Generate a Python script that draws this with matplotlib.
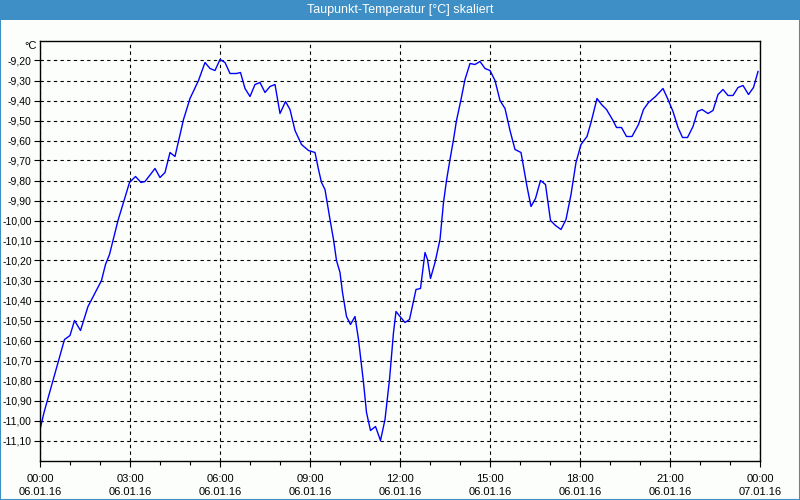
import numpy as np
import matplotlib
matplotlib.use('Agg')
import matplotlib.pyplot as plt
from matplotlib.patches import Rectangle
from matplotlib.ticker import MultipleLocator, FixedLocator

plt.rcParams['font.family'] = ['Liberation Sans', 'DejaVu Sans']

# minutes since 06.01.16 00:00
minutes = [0, 8, 49, 60, 69, 81, 96, 123, 131, 139, 156, 179, 191, 202, 210,
           230, 240, 250, 260, 270, 287, 300, 317, 330, 340, 350, 360, 370,
           380, 393, 401, 410, 420, 430, 440, 450, 460, 470, 480, 491, 500,
           510, 523, 537, 550, 557, 563, 570, 580, 587, 593, 600, 605, 613,
           621, 630, 637, 647, 653, 661, 671, 681, 690, 699, 707, 712, 720,
           730, 739, 748, 752, 761, 770, 775, 781, 790, 800, 807, 813, 820,
           827, 833, 842, 850, 860, 870, 880, 890, 900, 910, 920, 930, 940,
           950, 962, 974, 982, 991, 1001, 1011, 1021, 1031, 1042, 1052, 1062,
           1072, 1082, 1094, 1102, 1114, 1123, 1133, 1146, 1153, 1163, 1173,
           1184, 1197, 1207, 1217, 1231, 1246, 1256, 1266, 1276, 1285, 1295,
           1306, 1315, 1324, 1336, 1346, 1356, 1366, 1376, 1386, 1396, 1406,
           1417, 1427, 1436]
dewpoint = [-11.045, -10.96, -10.595, -10.575, -10.50, -10.55, -10.43, -10.30,
            -10.22, -10.17, -10.00, -9.81, -9.78, -9.81, -9.805, -9.74, -9.785,
            -9.76, -9.66, -9.68, -9.495, -9.39, -9.30, -9.21, -9.24, -9.25,
            -9.195, -9.21, -9.265, -9.265, -9.26, -9.34, -9.38, -9.32, -9.31,
            -9.36, -9.33, -9.32, -9.465, -9.405, -9.445, -9.55, -9.62, -9.65,
            -9.66, -9.745, -9.81, -9.845, -9.995, -10.095, -10.20, -10.26,
            -10.36, -10.48, -10.52, -10.48, -10.595, -10.81, -10.96, -11.05,
            -11.03, -11.10, -10.995, -10.795, -10.56, -10.455, -10.48, -10.51,
            -10.495, -10.39, -10.345, -10.34, -10.16, -10.195, -10.29, -10.21,
            -10.095, -9.91, -9.80, -9.695, -9.595, -9.50, -9.395, -9.295,
            -9.215, -9.22, -9.205, -9.24, -9.25, -9.30, -9.40, -9.44, -9.55,
            -9.645, -9.66, -9.83, -9.93, -9.89, -9.80, -9.82, -10.00, -10.025,
            -10.045, -9.995, -9.87, -9.71, -9.62, -9.58, -9.51, -9.39, -9.42,
            -9.445, -9.50, -9.535, -9.535, -9.58, -9.58, -9.52, -9.445, -9.41,
            -9.38, -9.34, -9.395, -9.455, -9.535, -9.585, -9.585, -9.53,
            -9.455, -9.445, -9.465, -9.45, -9.37, -9.345, -9.375, -9.375,
            -9.335, -9.325, -9.37, -9.335, -9.255]

tick_hours = [0, 3, 6, 9, 12, 15, 18, 21, 24]
tick_times = ['00:00', '03:00', '06:00', '09:00', '12:00', '15:00', '18:00', '21:00', '00:00']
tick_dates = ['06.01.16'] * 8 + ['07.01.16']

bar_blue = '#3d8fc6'

fig = plt.figure(figsize=(8, 5), dpi=100, facecolor='#fcfefc')
ax = fig.add_axes([40/800, 39.5/500, 720/800, 420/500])
ax.set_facecolor('#fcfefc')

hours = np.array(minutes) / 60.0
ax.plot(hours, dewpoint, color='#0000ff', lw=1.0)

ax.set_xlim(0, 24)
ax.set_ylim(-11.2, -9.1)

yt = np.round(np.arange(-11.10, -9.15, 0.1), 2)
ax.yaxis.set_major_locator(FixedLocator(yt))
ax.set_yticklabels([('%.2f' % v).replace('.', ',') for v in yt], fontsize=7.5)
ax.xaxis.set_major_locator(FixedLocator(tick_hours))
ax.xaxis.set_minor_locator(MultipleLocator(1))
ax.set_xticklabels([t + '\n' + d for t, d in zip(tick_times, tick_dates)],
                   linespacing=1.3, fontsize=8)

ax.tick_params(axis='both', which='major', length=4, width=0.8, color='black')
ax.tick_params(axis='y', which='major', pad=2)
ax.tick_params(axis='x', which='major', pad=6)
ax.tick_params(axis='x', which='minor', length=3, width=0.8)
for s in ax.spines.values():
    s.set_color('black')
    s.set_linewidth(1.0)

ax.grid(True, which='major', color='black', linestyle=(0, (3, 3)), linewidth=0.8)
ax.set_axisbelow(True)

fig.text(31/800, 1 - 46/500, '°C', ha='center', va='center', fontsize=8)

# title bar and border
fig.patches.append(Rectangle((0, 1 - 20/500), 1, 20/500, transform=fig.transFigure,
                             facecolor=bar_blue, edgecolor='none', zorder=0))
fig.patches.append(Rectangle((0.0006, 0.001), 0.9988, 0.998, transform=fig.transFigure,
                             fill=False, edgecolor=bar_blue, lw=1.5, zorder=5))
fig.text(0.5, 1 - 10/500, 'Taupunkt-Temperatur [°C] skaliert', ha='center', va='center',
         color='white', fontsize=9)

plt.savefig('out.png', dpi=100, facecolor=fig.get_facecolor())
